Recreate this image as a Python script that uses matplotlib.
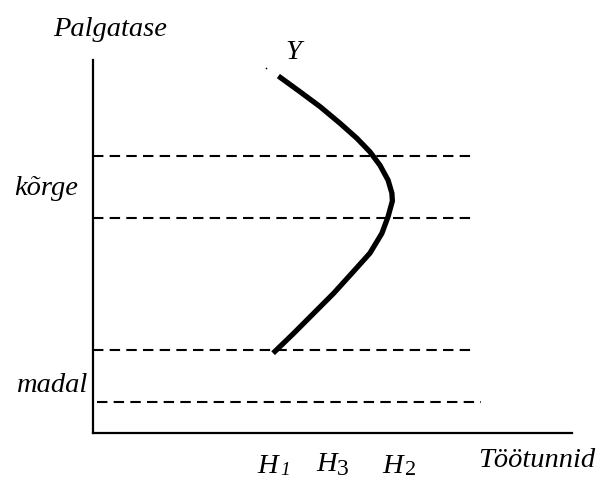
import matplotlib
matplotlib.use("Agg")
import matplotlib.pyplot as plt

plt.rcParams['font.family'] = ['Liberation Serif', 'DejaVu Serif']
plt.rcParams['lines.scale_dashes'] = False

# Labour supply curve (hours, wage)
hours = [38.7, 43.2, 47.4, 51.6, 55.1, 57.8, 59.9, 61.6, 62.4, 62.5,
         61.6, 60.3, 57.8, 54.3, 50.2, 46.0, 41.8, 37.6]
wage = [95.7, 91.5, 87.5, 83.0, 79.0, 75.4, 71.8, 67.8, 64.3, 62.2,
        58.0, 53.5, 48.2, 43.2, 37.4, 32.0, 26.6, 21.4]

# small stray dot near the top of the curve
dot_x = [36.2]
dot_y = [97.8]

# Dashed wage levels and their extents
levels = [74.3, 57.6, 22.3, 8.3]
level_start = [0.0, 0.0, 0.0, 0.8]
level_end = [79.5, 79.7, 79.7, 81.0]

# Hour labels on the horizontal axis
hour_main = ['H', 'H', 'H']
hour_sub = ['1', '3', '2']
hour_x = [34.2, 46.7, 60.5]
hour_y = [-10.7, -10.1, -10.8]
sub_x = [39.0, 50.9, 65.1]
sub_y = [-11.3, -11.3, -11.2]
sub_size = [14, 17, 16]
sub_style = ['italic', 'normal', 'normal']

W, H = 600, 479
fig = plt.figure(figsize=(W / 100, H / 100), dpi=100)
ax = fig.add_axes([93 / W, (H - 433) / H, 479 / W, 373 / H])
ax.set_xlim(0, 100)
ax.set_ylim(0, 100)
for s in ['top', 'right']:
    ax.spines[s].set_visible(False)
for s in ['left', 'bottom']:
    ax.spines[s].set_linewidth(1.6)
ax.set_xticks([])
ax.set_yticks([])
ax.patch.set_alpha(0)

for lv, x0, x1 in zip(levels, level_start, level_end):
    ax.plot([x0, x1], [lv, lv], color='black', lw=1.5,
            dashes=(7.5, 4.5), solid_capstyle='butt', clip_on=False)

ax.plot(hours, wage, color='black', lw=3.8, solid_joinstyle='round',
        solid_capstyle='butt', clip_on=False)
ax.plot(dot_x, dot_y, 'o', color='black', ms=1.2, mew=0, clip_on=False)

fs = 20.5
txt = dict(fontsize=fs, style='italic', color='black', clip_on=False)
ax.text(-8.4, 106.4, 'Palgatase', ha='left', va='baseline', **txt)
ax.text(40.1, 100.3, 'Y', ha='left', va='baseline', **txt)
ax.text(-3.1, 63.8, 'kõrge', ha='right', va='baseline', **txt)
ax.text(-1.0, 11.0, 'madal', ha='right', va='baseline', **txt)
ax.text(80.4, -9.1, 'Töötunnid', ha='left', va='baseline', **txt)
for m, sb, hx, hy, sx, sy, ss, st in zip(hour_main, hour_sub, hour_x, hour_y,
                                          sub_x, sub_y, sub_size, sub_style):
    ax.text(hx, hy, m, ha='left', va='baseline', **txt)
    ax.text(sx, sy, sb, ha='left', va='baseline', fontsize=ss, style=st,
            color='black', clip_on=False)

fig.savefig('out.png', dpi=100, facecolor='white')
